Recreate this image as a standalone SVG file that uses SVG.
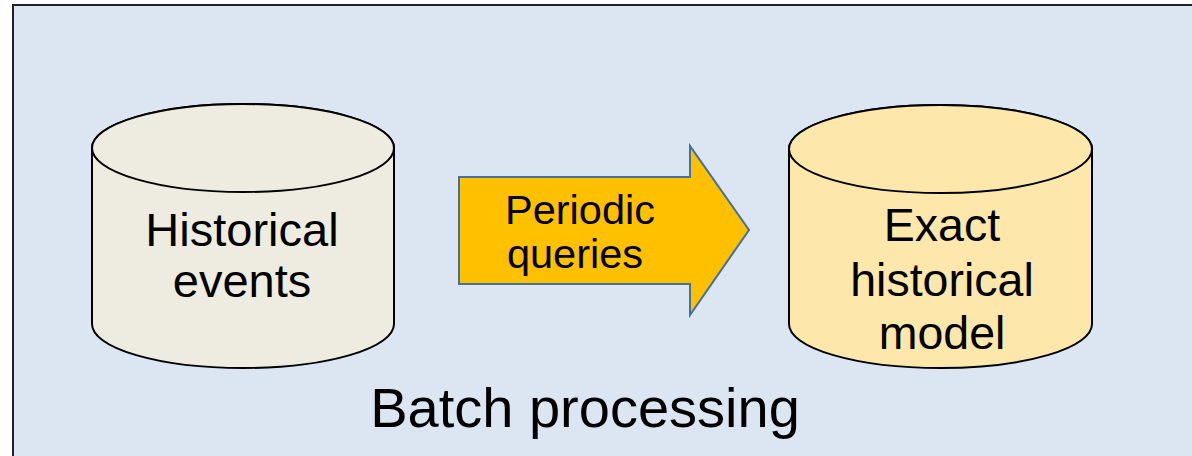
<svg xmlns="http://www.w3.org/2000/svg" width="1192" height="456" viewBox="0 0 1192 456">
<style>
.cyl{stroke:#000;stroke-width:2}
.t{font-family:"Liberation Sans",Arial,Helvetica,sans-serif;fill:#000;text-anchor:middle}
</style>
<rect x="0" y="0" width="1192" height="456" fill="#ffffff"/>
<rect id="frame" x="13" y="5" width="1200" height="480" fill="#DCE6F2" stroke="#222" stroke-width="2"/>
<g id="historical-events">
<path class="cyl" fill="#EEECE1" d="M92,148 L92,324 A151,44 0 0 0 394,324 L394,148 A151,44 0 0 0 92,148 Z"/>
<ellipse class="cyl" fill="#EEECE1" cx="243" cy="148" rx="151" ry="44"/>
<text class="t" x="242" y="246" font-size="47">Historical</text>
<text class="t" x="242" y="297" font-size="47">events</text>
</g>
<g id="connectors">
<g id="periodic-queries">
<path d="M459,177 L690,177 L690,146 L749,230 L690,315 L690,284 L459,284 Z" fill="#FFC000" stroke="#41719C" stroke-width="2" stroke-linejoin="miter"/>
<text class="t" x="580" y="224" font-size="41.5">Periodic</text>
<text class="t" x="575" y="268" font-size="41.5">queries</text>
</g>
</g>
<g id="exact-historical-model">
<path class="cyl" fill="#FDE7AB" d="M789,149 L789,324 A151.5,44 0 0 0 1092,324 L1092,149 A151.5,44 0 0 0 789,149 Z"/>
<ellipse class="cyl" fill="#FDE7AB" cx="940.5" cy="149" rx="151.5" ry="44"/>
<text class="t" x="942" y="241" font-size="46.5">Exact</text>
<text class="t" x="942" y="296" font-size="46.5">historical</text>
<text class="t" x="942" y="349" font-size="46.5">model</text>
</g>
<text id="title" class="t" x="585" y="427" font-size="56">Batch processing</text>
</svg>
